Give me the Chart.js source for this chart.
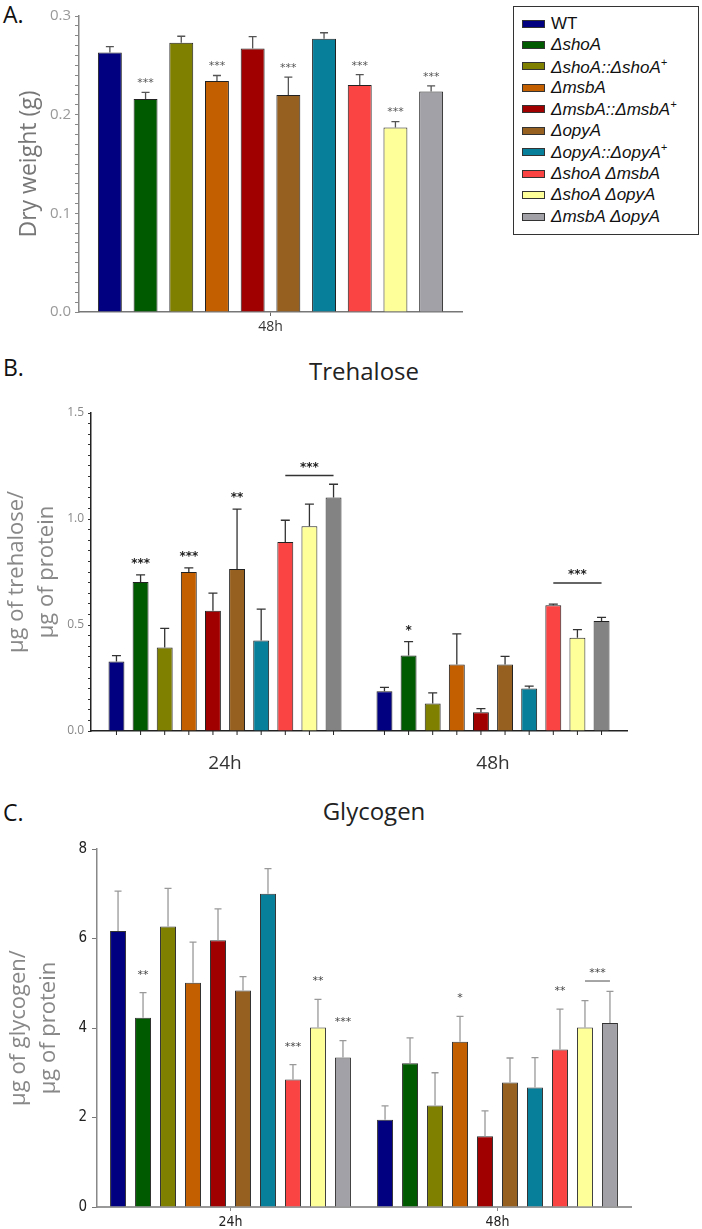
<!DOCTYPE html>
<html>
<head>
<meta charset="utf-8">
<script src="https://cdn.jsdelivr.net/npm/chart.js@4.4.1/dist/chart.umd.min.js"></script>
<style>
  body { margin: 0; width: 702px; height: 1229px; position: relative; background: #fff; overflow: hidden; font-family: 'Open Sans', sans-serif; }
  canvas { position: absolute; left: 0; }
  .tag { position: absolute; left: 3px; font-size: 23px; line-height: 1; color: #111; }
  .title { position: absolute; font-size: 24px; line-height: 1; color: #222; transform: translateX(-50%); white-space: nowrap; }
  #legend { position: absolute; left: 513px; top: 6px; width: 184px; height: 227px; border: 1.5px solid #333; font-family: 'Liberation Sans', Arial, sans-serif; }
  .row { position: absolute; left: 8px; height: 20px; display: flex; align-items: center; font-size: 17px; color: #111; white-space: nowrap; }
  .row i sup { font-size: 11px; }
  .sw { width: 21px; height: 6px; border: 1px solid #333; margin-right: 6px; }
</style>
</head>
<body>
<div class="tag" style="top:3px">A.</div>
<div class="tag" style="top:356px">B.</div>
<div class="tag" style="top:801px">C.</div>
<div class="title" style="left:364px; top:359px">Trehalose</div>
<div class="title" style="left:374px; top:799px">Glycogen</div>

<canvas id="chartA" width="480" height="342" style="top:0"></canvas>
<canvas id="chartB" width="702" height="411" style="top:380px"></canvas>
<canvas id="chartC" width="702" height="409" style="top:820px"></canvas>
<div id="legend"></div>

<script>
// Cepas y colores
const strains = ['WT', 'ΔshoA', 'ΔshoA::ΔshoA+', 'ΔmsbA', 'ΔmsbA::ΔmsbA+', 'ΔopyA', 'ΔopyA::ΔopyA+', 'ΔshoA ΔmsbA', 'ΔshoA ΔopyA', 'ΔmsbA ΔopyA'];
const strainColors = ['#000080', '#005a00', '#808000', '#c45f00', '#a10000', '#956020', '#077f9a', '#fa4444', '#ffff99', '#a2a1a7'];
const trehaloseColors = ['#000080', '#005a00', '#808000', '#c45f00', '#a10000', '#956020', '#077f9a', '#fa4444', '#ffff99', '#838383'];
const timePoints = ['24h', '48h'];

// A. Peso seco (48h)
const dryWeight = [0.263, 0.216, 0.273, 0.234, 0.267, 0.220, 0.277, 0.230, 0.187, 0.2235];
const dryWeightSd = [0.006, 0.0065, 0.0065, 0.0057, 0.012, 0.018, 0.006, 0.0105, 0.006, 0.0057];
const dryWeightStars = ['', '***', '', '***', '', '***', '', '***', '***', '***'];

// B. Trehalosa
const trehalose24 = [0.328, 0.703, 0.394, 0.750, 0.567, 0.764, 0.427, 0.891, 0.966, 1.102];
const trehalose24Sd = [0.028, 0.033, 0.090, 0.019, 0.083, 0.283, 0.148, 0.103, 0.104, 0.062];
const trehalose48 = [0.188, 0.356, 0.130, 0.314, 0.089, 0.314, 0.200, 0.593, 0.440, 0.519];
const trehalose48Sd = [0.018, 0.066, 0.050, 0.144, 0.017, 0.038, 0.012, 0.005, 0.038, 0.017];
const trehaloseStars24 = ['', '***', '', '***', '', '**', '', '', '', ''];
const trehaloseStars48 = ['', '*', '', '', '', '', '', '', '', ''];
const trehaloseBrackets = [
    { time: 0, from: 7, to: 9, level: 1.205, text: '***' },
    { time: 1, from: 7, to: 9, level: 0.698, text: '***' }
];

// C. Glucógeno
const glycogen24 = [6.17, 4.23, 6.27, 5.01, 5.96, 4.84, 7.00, 2.85, 4.01, 3.34];
const glycogen24Sd = [0.89, 0.56, 0.85, 0.91, 0.70, 0.31, 0.56, 0.33, 0.63, 0.38];
const glycogen48 = [1.95, 3.21, 2.27, 3.69, 1.58, 2.78, 2.67, 3.52, 4.01, 4.11];
const glycogen48Sd = [0.31, 0.57, 0.73, 0.57, 0.57, 0.55, 0.67, 0.90, 0.60, 0.71];
const glycogenStars24 = ['', '**', '', '', '', '', '', '***', '**', '***'];
const glycogenStars48 = ['', '', '', '*', '', '', '', '**', '', ''];
const glycogenBrackets = [
    { time: 1, from: 8, to: 9, level: 5.05, text: '***' }
];

/**
 * Dibuja barras de error, asteriscos, corchetes y marcas bajo cada barra
 */
const extrasPlugin = {
    id: 'extras',
    afterDatasetsDraw(chart, args, opts) {
        const ctx = chart.ctx;
        const yScale = chart.scales.y;
        ctx.save();
        chart.data.datasets.forEach(function(ds, i) {
            const meta = chart.getDatasetMeta(i);
            meta.data.forEach(function(bar, j) {
                const top = yScale.getPixelForValue(ds.data[j] + ds.sd[j]);
                ctx.strokeStyle = opts.errColor;
                ctx.lineWidth = opts.errWidth;
                ctx.beginPath();
                ctx.moveTo(bar.x, bar.y);
                ctx.lineTo(bar.x, top);
                ctx.moveTo(bar.x - opts.cap / 2, top);
                ctx.lineTo(bar.x + opts.cap / 2, top);
                ctx.stroke();

                if (opts.barTicks) {
                    ctx.strokeStyle = opts.axisColor;
                    ctx.lineWidth = 1;
                    ctx.beginPath();
                    ctx.moveTo(bar.x, chart.chartArea.bottom);
                    ctx.lineTo(bar.x, chart.chartArea.bottom + 4);
                    ctx.stroke();
                }

                const s = ds.stars[j];
                if (s) {
                    ctx.fillStyle = opts.starColor;
                    ctx.font = opts.starFont;
                    ctx.textAlign = 'center';
                    ctx.textBaseline = 'middle';
                    ctx.fillText(s, bar.x, top - opts.starGap);
                }
            });
        });

        (opts.brackets || []).forEach(function(b) {
            const x1 = chart.getDatasetMeta(b.from).data[b.time].x;
            const x2 = chart.getDatasetMeta(b.to).data[b.time].x;
            const y = yScale.getPixelForValue(b.level);
            ctx.strokeStyle = opts.bracketColor;
            ctx.lineWidth = 1.5;
            ctx.beginPath();
            ctx.moveTo(x1, y);
            ctx.lineTo(x2, y);
            ctx.stroke();
            ctx.fillStyle = opts.starColor;
            ctx.font = opts.starFont;
            ctx.textAlign = 'center';
            ctx.textBaseline = 'middle';
            ctx.fillText(b.text, (x1 + x2) / 2, y - 8);
        });
        ctx.restore();
    }
};

function buildDatasets(seriesList, sdList, starsList, colors, catPct, barPct, border) {
    return strains.map(function(name, i) {
        return {
            label: name,
            data: seriesList.map(function(s) { return s[i]; }),
            sd: sdList.map(function(s) { return s[i]; }),
            stars: starsList.map(function(s) { return s[i]; }),
            backgroundColor: colors[i],
            borderColor: border,
            borderWidth: 1,
            categoryPercentage: catPct,
            barPercentage: barPct
        };
    });
}

function majorOnly(step) {
    return function(value) {
        const r = value / step;
        return Math.abs(r - Math.round(r)) < 1e-6 ? value.toFixed(1) : '';
    };
}

document.addEventListener('DOMContentLoaded', function() {
    Chart.defaults.font.family = "'Open Sans', sans-serif";

    // Leyenda
    const legend = document.getElementById('legend');
    strains.forEach(function(name, i) {
        const row = document.createElement('div');
        row.className = 'row';
        row.style.top = (6.5 + i * 21.45) + 'px';
        const sw = document.createElement('span');
        sw.className = 'sw';
        sw.style.background = strainColors[i];
        const txt = name === 'WT' ? document.createElement('span') : document.createElement('i');
        txt.innerHTML = name.replace(/\+/g, '<sup>+</sup>');
        row.appendChild(sw);
        row.appendChild(txt);
        legend.appendChild(row);
    });

    // A. Peso seco
    new Chart(document.getElementById('chartA'), {
        type: 'bar',
        data: {
            labels: ['48h'],
            datasets: buildDatasets([dryWeight], [dryWeightSd], [dryWeightStars], strainColors, 0.932, 0.67, '#222')
        },
        options: {
            responsive: false,
            animation: false,
            layout: { padding: { top: 16, right: 18, left: 0, bottom: 0 } },
            plugins: {
                legend: { display: false },
                tooltip: { enabled: false },
                extras: { errColor: '#555', errWidth: 1.3, cap: 8, starColor: '#555', starFont: '11px "DejaVu Sans"', starGap: 9 }
            },
            scales: {
                x: {
                    grid: { display: true, drawOnChartArea: false, offset: false, tickLength: 4, color: '#666' },
                    border: { color: '#777', width: 1.5 },
                    ticks: { color: '#333', font: { size: 14 }, padding: 3 },
                    afterFit: function(s) { s.height = 30; }
                },
                y: {
                    min: 0, max: 0.3,
                    ticks: { stepSize: 0.01, autoSkip: false, color: '#999', font: { size: 15 }, padding: 4, callback: majorOnly(0.1) },
                    grid: { drawOnChartArea: false, tickLength: 4, color: '#888' },
                    border: { color: '#888', width: 1.5 },
                    title: { display: true, text: 'Dry weight (g)', color: '#777', font: { size: 23 }, padding: { top: 16, bottom: 0 } },
                    afterFit: function(s) { s.width = 79; }
                }
            }
        },
        plugins: [extrasPlugin]
    });

    // B. Trehalosa
    new Chart(document.getElementById('chartB'), {
        type: 'bar',
        data: {
            labels: timePoints,
            datasets: buildDatasets([trehalose24, trehalose48], [trehalose24Sd, trehalose48Sd], [trehaloseStars24, trehaloseStars48], trehaloseColors, 0.9, 0.66, '#222')
        },
        options: {
            responsive: false,
            animation: false,
            layout: { padding: { top: 33, right: 75, left: 0, bottom: 0 } },
            plugins: {
                legend: { display: false },
                tooltip: { enabled: false },
                extras: { errColor: '#333', errWidth: 1.3, cap: 9, starColor: '#222', starFont: 'bold 12px "DejaVu Sans"', starGap: 11, barTicks: true, axisColor: '#222', bracketColor: '#333', brackets: trehaloseBrackets }
            },
            scales: {
                x: {
                    grid: { display: false, drawTicks: false },
                    border: { color: '#222', width: 1.5 },
                    ticks: { color: '#333', font: { size: 19 }, padding: 21 },
                    afterFit: function(s) { s.height = 60; }
                },
                y: {
                    min: 0, max: 1.5,
                    ticks: { stepSize: 0.05, autoSkip: false, color: '#888', font: { size: 12 }, padding: 4, callback: majorOnly(0.5) },
                    grid: { drawOnChartArea: false, tickLength: 3, color: '#333' },
                    border: { color: '#222', width: 1.5 },
                    title: { display: true, text: ['μg of trehalose/', 'μg of protein'], color: '#888', font: { size: 22, lineHeight: 1.35 }, padding: { top: 2, bottom: 0 } },
                    afterFit: function(s) { s.width = 91; }
                }
            }
        },
        plugins: [extrasPlugin]
    });

    // C. Glucógeno
    new Chart(document.getElementById('chartC'), {
        type: 'bar',
        data: {
            labels: timePoints,
            datasets: buildDatasets([glycogen24, glycogen48], [glycogen24Sd, glycogen48Sd], [glycogenStars24, glycogenStars48], strainColors, 0.936, 0.64, '#333')
        },
        options: {
            responsive: false,
            animation: false,
            layout: { padding: { top: 29, right: 71, left: 0, bottom: 0 } },
            plugins: {
                legend: { display: false },
                tooltip: { enabled: false },
                extras: { errColor: '#999', errWidth: 1.3, cap: 7, starColor: '#444', starFont: '11px "DejaVu Sans"', starGap: 18, bracketColor: '#888', brackets: glycogenBrackets }
            },
            scales: {
                x: {
                    grid: { display: true, drawOnChartArea: false, offset: false, tickLength: 4, color: '#888' },
                    border: { color: '#999', width: 2 },
                    ticks: { color: '#222', font: { family: "'DejaVu Sans Condensed', 'Liberation Sans Narrow', sans-serif", size: 14 }, padding: 3 },
                    afterFit: function(s) { s.height = 22; }
                },
                y: {
                    min: 0, max: 8,
                    ticks: { stepSize: 2, autoSkip: false, color: '#222', font: { family: "'DejaVu Sans Condensed', 'Liberation Sans Narrow', sans-serif", size: 15 }, padding: 5 },
                    grid: { drawOnChartArea: false, tickLength: 5, color: '#777' },
                    border: { color: '#888', width: 1.5 },
                    title: { display: true, text: ['μg of glycogen/', 'μg of protein'], color: '#888', font: { size: 22, lineHeight: 1.35 }, padding: { top: 4, bottom: 0 } },
                    afterFit: function(s) { s.width = 97; }
                }
            }
        },
        plugins: [extrasPlugin]
    });
});
</script>
</body>
</html>
